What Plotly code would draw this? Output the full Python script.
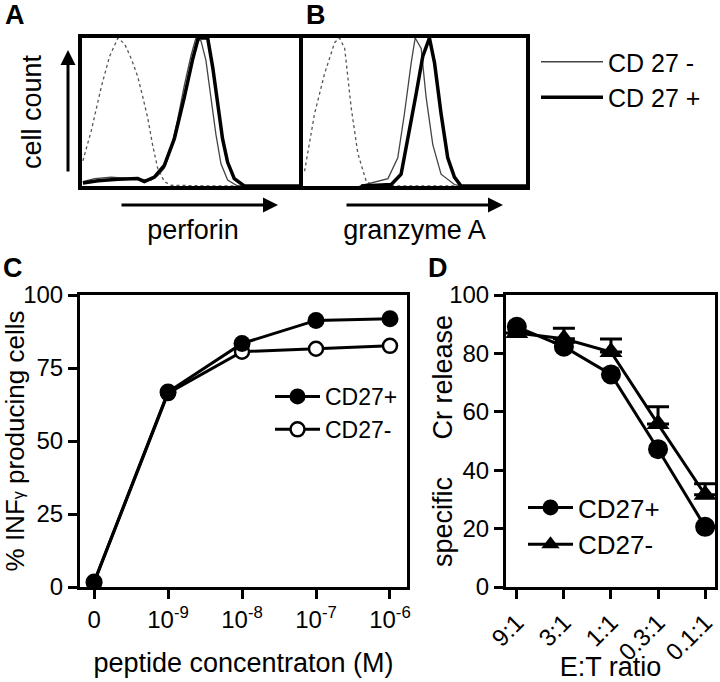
import plotly.graph_objects as go

FONT = "Liberation Sans, Arial, sans-serif"
W, H = 720, 682

# ---------------- Panel A (perforin) histogram traces ----------------
perf_iso_x = [0.4, 4.2, 8.7, 12.4, 16.2, 19.2, 22.2, 25.1, 27.4, 29.6, 31.9, 34.1, 37.1, 40.1, 60, 100]
perf_iso_y = [0.17, 0.375, 0.67, 0.875, 1.0, 0.96, 0.86, 0.74, 0.6, 0.46, 0.27, 0.12, 0.03, 0.005, 0.0, 0.0]
perf_neg_x = [0.4, 5.7, 13.2, 20.7, 28.1, 31.1, 34.1, 37.1, 40.1, 43.1, 46.1, 49.1, 51.3, 53.6, 55.8, 58.1, 60.3, 62.6, 65.6, 70.1, 100]
perf_neg_y = [0.03, 0.05, 0.06, 0.05, 0.045, 0.04, 0.07, 0.12, 0.25, 0.45, 0.68, 0.88, 1.0, 0.98, 0.85, 0.6, 0.35, 0.15, 0.04, 0.0, 0.0]
perf_pos_x = [0.4, 7.2, 16.2, 25.1, 28.1, 32.6, 37.1, 41.6, 46.1, 49.9, 52.4, 56.6, 58.9, 61.1, 63.3, 65.6, 68.6, 73.1, 100]
perf_pos_y = [0.02, 0.035, 0.045, 0.05, 0.03, 0.06, 0.14, 0.32, 0.6, 0.86, 1.0, 1.0, 0.8, 0.55, 0.32, 0.16, 0.05, 0.0, 0.0]

# ---------------- Panel B (granzyme A) histogram traces ----------------
gzm_iso_x = [0.7, 5.2, 9.7, 14.2, 16.4, 18.7, 21.6, 24.6, 28.4, 32.1, 100]
gzm_iso_y = [0.1, 0.49, 0.76, 0.97, 1.0, 0.93, 0.53, 0.22, 0.03, 0.0, 0.0]
gzm_neg_x = [25.4, 33.6, 38.1, 42.5, 45.5, 48.5, 50.3, 53.0, 55.2, 58.2, 61.9, 67.9, 70.9, 100]
gzm_neg_y = [0.0, 0.03, 0.05, 0.19, 0.49, 0.83, 1.0, 0.93, 0.6, 0.28, 0.08, 0.01, 0.0, 0.0]
gzm_pos_x = [26.1, 39.6, 44.0, 47.0, 50.7, 53.7, 56.7, 59.0, 61.9, 64.9, 67.9, 70.9, 100]
gzm_pos_y = [0.0, 0.01, 0.08, 0.31, 0.62, 0.875, 1.0, 0.83, 0.49, 0.19, 0.06, 0.0, 0.0]

# ---------------- Panel C ----------------
conc_labels = ["0", "10<sup>-9</sup>", "10<sup>-8</sup>", "10<sup>-7</sup>", "10<sup>-6</sup>"]
ifn_cd27pos = [1.7, 66.8, 83.4, 91.3, 91.9]
ifn_cd27neg = [1.5, 66.4, 80.6, 81.6, 82.6]

# ---------------- Panel D ----------------
et_labels = ["9:1", "3:1", "1:1", "0.3:1", "0.1:1"]
cr_cd27pos = [89.1, 82.3, 72.8, 47.2, 20.6]
cr_cd27neg = [87.0, 85.0, 80.5, 55.8, 31.6]
cr_cd27neg_err = [0.0, 3.6, 4.4, 5.9, 3.8]

fig = go.Figure()

def px_x(p):
    return p / W

def px_y(p):
    return 1 - p / H

# Histograms A
fig.add_trace(go.Scatter(x=perf_iso_x, y=perf_iso_y, mode="lines", xaxis="x", yaxis="y",
                         line=dict(color="#555555", width=1.3, dash="dot"), showlegend=False))
fig.add_trace(go.Scatter(x=perf_neg_x, y=perf_neg_y, mode="lines", xaxis="x", yaxis="y", name="CD 27 -",
                         line=dict(color="#444444", width=1.3), legend="legend3"))
fig.add_trace(go.Scatter(x=perf_pos_x, y=perf_pos_y, mode="lines", xaxis="x", yaxis="y", name="CD 27 +",
                         line=dict(color="black", width=3.5), legend="legend3"))
# Histograms B
fig.add_trace(go.Scatter(x=gzm_iso_x, y=gzm_iso_y, mode="lines", xaxis="x2", yaxis="y2",
                         line=dict(color="#555555", width=1.3, dash="dot"), showlegend=False))
fig.add_trace(go.Scatter(x=gzm_neg_x, y=gzm_neg_y, mode="lines", xaxis="x2", yaxis="y2",
                         line=dict(color="#444444", width=1.3), showlegend=False))
fig.add_trace(go.Scatter(x=gzm_pos_x, y=gzm_pos_y, mode="lines", xaxis="x2", yaxis="y2",
                         line=dict(color="black", width=3.5), showlegend=False))

# Panel C
cx = list(range(len(conc_labels)))
fig.add_trace(go.Scatter(x=cx, y=ifn_cd27neg, mode="lines+markers", xaxis="x3", yaxis="y3", name="CD27-",
                         line=dict(color="black", width=3),
                         marker=dict(symbol="circle", size=14, color="white", line=dict(color="black", width=2.5)),
                         legend="legend", legendrank=2))
fig.add_trace(go.Scatter(x=cx, y=ifn_cd27pos, mode="lines+markers", xaxis="x3", yaxis="y3", name="CD27+",
                         line=dict(color="black", width=3),
                         marker=dict(symbol="circle", size=17, color="black"),
                         legend="legend", legendrank=1))

# Panel D
dx = list(range(len(et_labels)))
fig.add_trace(go.Scatter(x=dx, y=cr_cd27neg, mode="lines+markers", xaxis="x4", yaxis="y4", name="CD27-",
                         line=dict(color="black", width=3),
                         marker=dict(symbol="triangle-up", size=20, color="black"),
                         error_y=dict(type="data", symmetric=False, array=cr_cd27neg_err,
                                      arrayminus=[0] * len(cr_cd27neg_err), color="black",
                                      thickness=3, width=11),
                         legend="legend2", legendrank=2))
fig.add_trace(go.Scatter(x=dx, y=cr_cd27pos, mode="lines+markers", xaxis="x4", yaxis="y4", name="CD27+",
                         line=dict(color="black", width=3),
                         marker=dict(symbol="circle", size=20, color="black"),
                         legend="legend2", legendrank=1))

hist_axis = dict(showline=True, linewidth=3.5, linecolor="black", mirror=True, ticks="",
                 showticklabels=False, showgrid=False, zeroline=False, fixedrange=True,
                 automargin=False)

tickfont = dict(family=FONT, size=24, color="black")
frame = dict(showline=True, linewidth=3, linecolor="black", mirror=True,
             ticks="outside", ticklen=9, tickwidth=3, tickcolor="black",
             tickfont=tickfont, showgrid=False, zeroline=False, automargin=False)

fig.update_layout(
    width=W, height=H,
    margin=dict(l=0, r=0, t=0, b=0, autoexpand=False),
    paper_bgcolor="white", plot_bgcolor="white",
    font=dict(family=FONT, color="black"),
    xaxis=dict(hist_axis, domain=[px_x(82), px_x(304)], range=[0, 100], anchor="y",
               title=dict(text="perforin", font=dict(size=27), standoff=32)),
    yaxis=dict(hist_axis, domain=[px_y(186), px_y(38)], range=[0, 1.0], anchor="x",
               title=dict(text="cell count", font=dict(size=27), standoff=30)),
    xaxis2=dict(hist_axis, domain=[px_x(303), px_x(526)], range=[0, 100], anchor="y2",
                title=dict(text="granzyme A", font=dict(size=27), standoff=32)),
    yaxis2=dict(hist_axis, domain=[px_y(186), px_y(38)], range=[0, 1.0], anchor="x2"),
    xaxis3=dict(frame, domain=[px_x(80), px_x(407)], range=[-0.19, 4.23], anchor="y3",
                tickmode="array", tickvals=cx, ticktext=conc_labels,
                title=dict(text="peptide concentraton (M)", font=dict(size=27), standoff=22)),
    yaxis3=dict(frame, domain=[px_y(587), px_y(295)], range=[0, 100], anchor="x3",
                tickmode="array", tickvals=[0, 25, 50, 75, 100],
                title=dict(text="% INF<span style='font-size:16px'>γ</span> producing cells",
                           font=dict(size=26), standoff=2)),
    xaxis4=dict(frame, domain=[px_x(506), px_x(715)], range=[-0.23, 4.21], anchor="y4",
                tickmode="array", tickvals=dx, ticktext=et_labels, tickangle=-45,
                title=dict(text="E:T ratio", font=dict(size=27), standoff=0)),
    yaxis4=dict(frame, domain=[px_y(587), px_y(295)], range=[0, 100], anchor="x4",
                tickmode="array", tickvals=[0, 20, 40, 60, 80, 100]),
    legend=dict(x=px_x(270), y=px_y(375), xanchor="left", yanchor="top", itemwidth=45,
                font=dict(family=FONT, size=23), bgcolor="rgba(0,0,0,0)", traceorder="normal"),
    legend2=dict(x=px_x(523), y=px_y(484), xanchor="left", yanchor="top", itemwidth=45,
                 font=dict(family=FONT, size=26), bgcolor="rgba(0,0,0,0)", traceorder="normal"),
    legend3=dict(x=px_x(536), y=px_y(39), xanchor="left", yanchor="top", itemwidth=62,
                 font=dict(family=FONT, size=25), bgcolor="rgba(0,0,0,0)", traceorder="normal"),
)

# D y-axis title (placed close to the tick labels, as in the reference)
fig.add_annotation(text="specific\u00a0\u00a0\u00a0\u00a0\u00a0Cr release", textangle=-90,
                   x=px_x(443), y=px_y(441), xref="paper", yref="paper", showarrow=False,
                   font=dict(family=FONT, size=27, color="black"), xanchor="center", yanchor="middle")

# Panel letters
for letter, lx, ly in [("A", 15, 15), ("B", 316, 15), ("C", 13, 268), ("D", 438, 268)]:
    fig.add_annotation(text=f"<b>{letter}</b>", x=px_x(lx), y=px_y(ly), xref="paper", yref="paper",
                       showarrow=False, font=dict(family=FONT, size=27, color="black"),
                       xanchor="center", yanchor="middle")

# Axis arrows for the histogram panels
fig.add_annotation(x=px_x(68), y=px_y(50), xref="paper", yref="paper", ax=0, ay=123,
                   showarrow=True, arrowhead=2, arrowsize=1, arrowwidth=3, arrowcolor="black", text="")
fig.add_annotation(x=px_x(278), y=px_y(205), xref="paper", yref="paper", ax=-158, ay=0,
                   showarrow=True, arrowhead=2, arrowsize=1, arrowwidth=3, arrowcolor="black", text="")
fig.add_annotation(x=px_x(503), y=px_y(205), xref="paper", yref="paper", ax=-158, ay=0,
                   showarrow=True, arrowhead=2, arrowsize=1, arrowwidth=3, arrowcolor="black", text="")

fig.write_html("out.html", config={"displayModeBar": False},
               post_script="document.body.style.margin='0px';")
